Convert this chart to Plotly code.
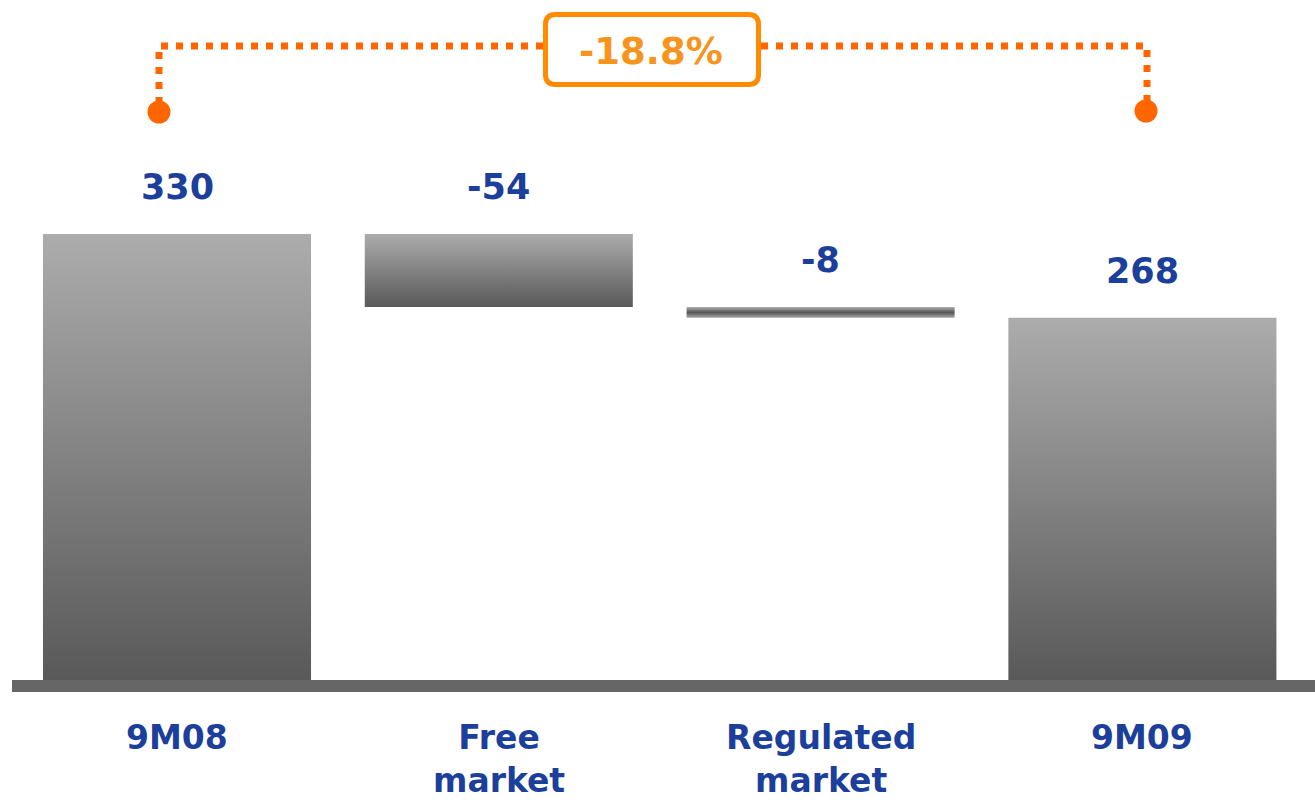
import plotly.graph_objects as go

# ---------------- data ----------------
categories = ["9M08", "Free<br>market", "Regulated<br>market", "9M09"]
values = [330, -54, -8, 268]
measures = ["absolute", "relative", "relative", "total"]
value_labels = ["330", "-54", "-8", "268"]

W, H = 1315, 805
BLUE = "#1B3F9A"
ORANGE_LINE = "#FF6600"
ORANGE_BOX = "#FF8C00"
ORANGE_TEXT = "#F7941E"
FONT = "DejaVu Sans"

# waterfall bases/tops computed from data
bases, tops = [], []
running = 0
for v, m in zip(values, measures):
    if m == "absolute":
        b, t = 0, v
        running = v
    elif m == "total":
        b, t = 0, running
    else:
        b, t = running, running + v
        running += v
    bases.append(min(b, t))
    tops.append(max(b, t))

# pixel helpers for decorations (margins are zero -> paper == pixels)
def px(x):
    return x / W

def py(y):
    return 1 - y / H

fig = go.Figure()

half = 0.4165
normal_scale = [[0, "#595959"], [1, "#ACACAC"]]
thin_scale = [[0, "#A8A8A8"], [0.5, "#555555"], [1, "#B0B0B0"]]
for i, (b, t) in enumerate(zip(bases, tops)):
    xs = [i - half, i + half, i + half, i - half, i - half]
    ys = [b, b, t, t, b]
    scale = thin_scale if (t - b) < 20 else normal_scale
    fig.add_trace(go.Scatter(
        x=xs, y=ys, mode="lines", fill="toself",
        line=dict(width=0, color="rgba(0,0,0,0)"),
        fillgradient=dict(type="vertical", colorscale=scale),
        hoverinfo="skip", showlegend=False,
    ))

# value labels
for i, (lab, t) in enumerate(zip(value_labels, tops)):
    fig.add_annotation(
        x=i, y=t, xref="x", yref="y", text=lab, showarrow=False,
        yanchor="middle", yshift=47,
        font=dict(family=FONT, size=35, color=BLUE, weight="bold"),
    )

# category labels
for i, cat in enumerate(categories):
    fig.add_annotation(
        x=i, y=py(717), xref="x", yref="paper", text=cat, showarrow=False,
        yanchor="top", align="center", borderpad=0,
        font=dict(family=FONT, size=33, color=BLUE, weight="bold"),
    )

# baseline
fig.add_shape(type="rect", xref="paper", yref="paper",
              x0=px(12), x1=1.0, y0=py(692), y1=py(680),
              line=dict(width=0), fillcolor="#666666", layer="above")

# connector dotted lines
dash = "7px,8px"
fig.add_shape(type="path", xref="paper", yref="paper",
              path=f"M {px(159)},{py(104)} L {px(159)},{py(46)} L {px(543)},{py(46)}",
              line=dict(color=ORANGE_LINE, width=7, dash=dash))
fig.add_shape(type="path", xref="paper", yref="paper",
              path=f"M {px(761)},{py(46)} L {px(1147)},{py(46)} L {px(1147)},{py(104)}",
              line=dict(color=ORANGE_LINE, width=7, dash=dash))
r = 11.5
for cx, cy in [(159, 112), (1146, 111)]:
    fig.add_shape(type="circle", xref="paper", yref="paper",
                  x0=px(cx - r), x1=px(cx + r), y0=py(cy + r), y1=py(cy - r),
                  fillcolor=ORANGE_LINE, line=dict(width=0))

# rounded box
x0, x1, y0, y1, rr = 545.5, 758.5, 14.5, 84.5, 10
path = (
    f"M {px(x0 + rr)},{py(y0)} L {px(x1 - rr)},{py(y0)} "
    f"Q {px(x1)},{py(y0)} {px(x1)},{py(y0 + rr)} "
    f"L {px(x1)},{py(y1 - rr)} Q {px(x1)},{py(y1)} {px(x1 - rr)},{py(y1)} "
    f"L {px(x0 + rr)},{py(y1)} Q {px(x0)},{py(y1)} {px(x0)},{py(y1 - rr)} "
    f"L {px(x0)},{py(y0 + rr)} Q {px(x0)},{py(y0)} {px(x0 + rr)},{py(y0)} Z"
)
fig.add_shape(type="path", xref="paper", yref="paper", path=path,
              line=dict(color=ORANGE_BOX, width=5), fillcolor="white")

pct = (values[-1] - values[0]) / values[0] * 100
fig.add_annotation(
    x=px(651), y=py(51), xref="paper", yref="paper",
    text=f"{pct:.1f}%", showarrow=False, xanchor="center", yanchor="middle",
    font=dict(family=FONT, size=37, color=ORANGE_TEXT, weight="bold"),
)

# axes: x index 0 at pixel 177, 321.8 px per category; y 0 at pixel 680, 1.3515 px/unit
xppu = 321.8
yppu = 1.3515
fig.update_xaxes(range=[(0 - 177) / xppu, (W - 177) / xppu], visible=False, fixedrange=True)
fig.update_yaxes(range=[-(H - 680) / yppu, 680 / yppu], visible=False, fixedrange=True)

fig.update_layout(
    width=W, height=H,
    margin=dict(l=0, r=0, t=0, b=0),
    plot_bgcolor="white", paper_bgcolor="white",
    showlegend=False,
)

fig.write_html(
    "out.html",
    config={"displayModeBar": False},
    post_script="document.body.style.margin='0';document.body.style.overflow='hidden';",
)
